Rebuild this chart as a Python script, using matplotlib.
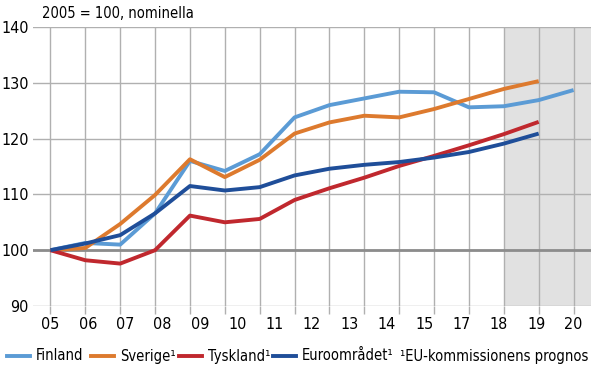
import matplotlib
matplotlib.use("Agg")
import matplotlib.pyplot as plt
import numpy as np
from matplotlib.lines import Line2D

plt.rcParams["font.family"] = ["DejaVu Sans"]
plt.rcParams["font.stretch"] = "condensed"

years = np.arange(2005, 2021)
tick_labels = ["05", "06", "07", "08", "09", "10", "11", "12", "13", "14",
               "15", "17", "18", "19", "20"]

finland = [100, 101.3, 101.0, 106.6, 116.0, 114.2, 117.2, 123.8, 126.0, 127.2,
           128.4, 128.3, 125.6, 125.8, 126.9, 128.7]
sverige = [100, 100.4, 104.7, 109.9, 116.3, 113.1, 116.2, 120.9, 122.9, 124.1,
           123.8, 125.3, 127.1, 128.9, 130.3]
tyskland = [100, 98.2, 97.6, 100.0, 106.2, 105.0, 105.6, 109.0, 111.1, 113.0,
            115.1, 116.9, 118.8, 120.8, 123.0]
euro = [100, 101.2, 102.7, 106.6, 111.5, 110.7, 111.3, 113.4, 114.6, 115.3,
        115.8, 116.6, 117.6, 119.1, 120.9]

names = ["Finland", "Sverige\u00b9", "Tyskland\u00b9", "Euroområdet\u00b9"]
colors = ["#5B9BD5", "#DD7A2E", "#C0282E", "#1F4E99"]
series = [finland, sverige, tyskland, euro]

W, H = 591, 370
fig = plt.figure(figsize=(W / 100, H / 100), dpi=100)
ax = fig.add_axes([33 / W, 1 - 306 / H, 1 - 33 / W, (306 - 27) / H])

ax.axvspan(2018, 2020.5, color="#E1E1E1", zorder=0, lw=0)

for data, c in zip(series, colors):
    ax.plot(years[:len(data)], data, color=c, lw=2.8, solid_capstyle="butt", zorder=3)

ax.set_xlim(2004.5, 2020.5)
ax.set_ylim(90, 140)

# gridlines sit on the years, labels are spread evenly (16 is missing in the original)
ax.set_xticks(years)
ax.set_xticklabels([""] * len(years))
label_pos = np.linspace(2005, 2020, len(tick_labels))
ax.set_xticks(label_pos, minor=True)
ax.set_xticklabels(tick_labels, minor=True)
ax.xaxis.remove_overlapping_locs = False
ax.tick_params(axis="x", which="major", length=6, color="#B0B0B0", width=1)
ax.tick_params(axis="x", which="minor", length=0, pad=8, labelsize=11.5)

ax.set_yticks(np.arange(90, 141, 10))
ax.tick_params(axis="y", length=0, labelsize=11.5, pad=3)

ax.grid(True, which="major", color="#B0B0B0", lw=1, zorder=1)
ax.axhline(100, color="#8C8C8C", lw=2, zorder=2)
for s in ax.spines.values():
    s.set_visible(False)

fig.text(42 / W, 1 - 13 / H, "2005 = 100, nominella", fontsize=10.5, va="center", ha="left")

# legend laid out by hand, one row under the chart
leg_y = 1 - 356 / H
handle_x = [7, 91, 179, 273]
for hx, name, c in zip(handle_x, names, colors):
    fig.add_artist(Line2D([hx / W, (hx + 23) / W], [leg_y, leg_y], color=c, lw=2.8,
                          transform=fig.transFigure))
    fig.text((hx + 29) / W, leg_y, name, fontsize=10.5, va="center", ha="left")
fig.text(400 / W, leg_y, "\u00b9EU-kommissionens prognos", fontsize=10.5,
         va="center", ha="left")

fig.savefig("out.png", dpi=100)
